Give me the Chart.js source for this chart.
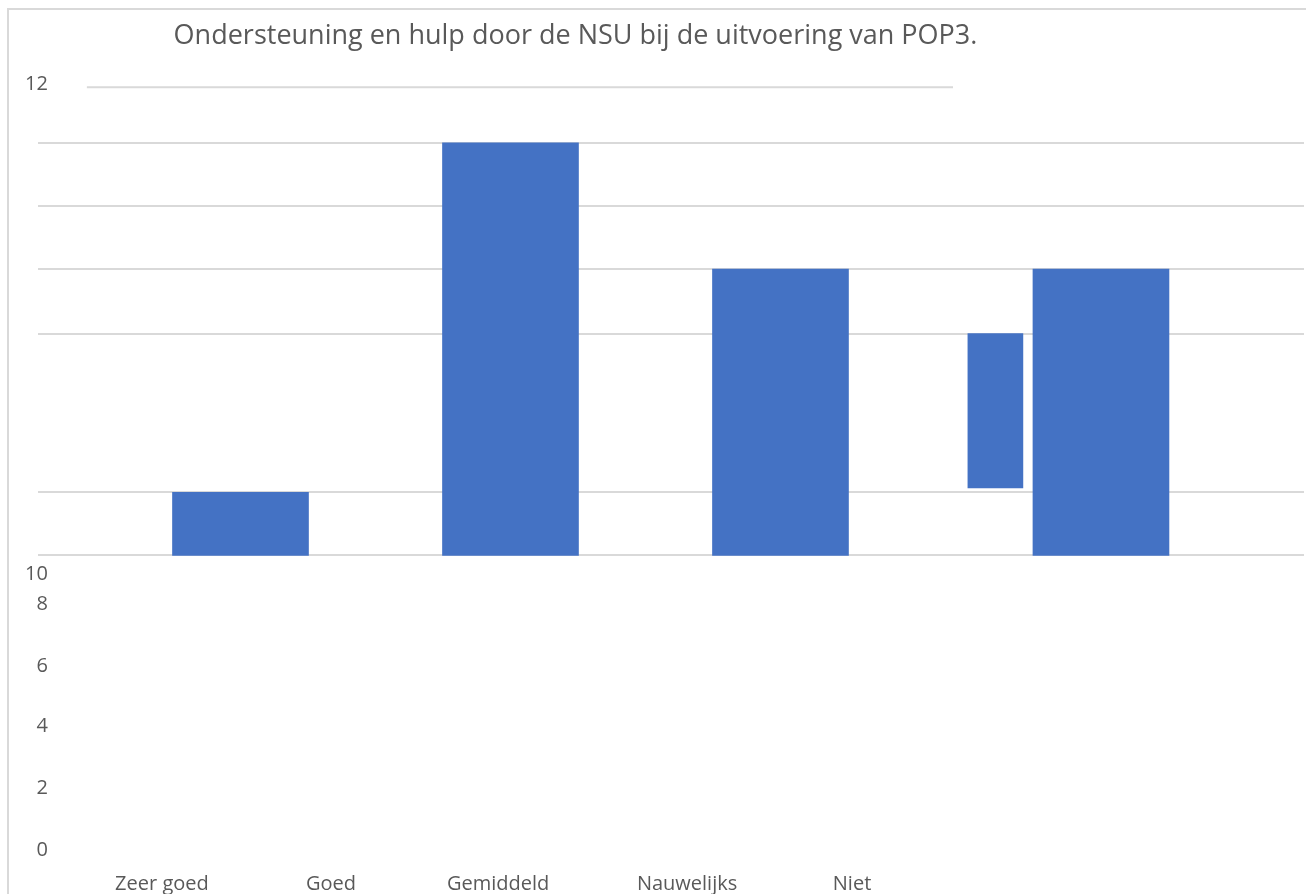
<!DOCTYPE html>
<html>
<head>
<meta charset="utf-8">
<script src="https://cdn.jsdelivr.net/npm/chart.js@4/dist/chart.umd.min.js"></script>
<style>
html, body { margin: 0; padding: 0; background: #ffffff; overflow: hidden; }
#wrap { position: relative; width: 1306px; height: 894px; }
#frame { position: absolute; left: 7px; top: 8px; width: 1400px; height: 1000px; border: 2px solid #d9d9d9; box-sizing: border-box; pointer-events: none; }
</style>
</head>
<body>
<div id="wrap">
  <canvas id="c" width="1306" height="894"></canvas>
  <div id="frame"></div>
</div>
<script>
// ---- data ----
const titleText = 'Ondersteuning en hulp door de NSU bij de uitvoering van POP3.';
const categories = ['Zeer goed', 'Goed', 'Gemiddeld', 'Nauwelijks', 'Niet'];
const categoryPos = [-0.291, 0.335, 0.954, 1.654, 2.265];
const barPos = [0, 1, 2, 3.187];
const barValues = [1, 6.53, 4.53, 4.53];
const extraBarPos = [2.796];
const extraBarRange = [[1.07, 3.51]];
const gridValues = [0, 1, 3.51, 4.53, 5.53, 6.53];
const topLineX = [-0.569, 2.639];
const topLineY = 7.41;
const yTickLabels = ['0', '2', '4', '6', '8', '10', '12'];
const yTickPos = [-4.66, -3.69, -2.71, -1.75, -0.77, -0.29, 7.46];
const xRange = [-0.75, 3.939];
const yRange = [-5.04, 7.587];
const yLabelAxisAt = -0.713;

// ---- style ----
const fontFamily = '"Open Sans", sans-serif';
const textColor = '#595959';
const barColor = '#4472c4';
const gridColor = '#d9d9d9';
const titleCenterX = 575.5;

const titleShift = {
  id: 'titleShift',
  afterLayout(chart) {
    const tb = chart.titleBlock;
    if (!tb) return;
    const w = tb.right - tb.left;
    tb.left = titleCenterX - w / 2;
    tb.right = titleCenterX + w / 2;
  }
};

const mainBars = barPos.map((x, i) => ({ x: x, y: barValues[i] }));
const extraBars = extraBarPos.map((x, i) => ({ x: x, y: extraBarRange[i] }));
const topLine = topLineX.map(x => ({ x: x, y: topLineY }));

new Chart(document.getElementById('c'), {
  type: 'bar',
  data: {
    datasets: [
      {
        type: 'bar', data: mainBars, xAxisID: 'x', yAxisID: 'y',
        backgroundColor: barColor, borderWidth: 0, barThickness: 136, grouped: false
      },
      {
        type: 'bar', data: extraBars, xAxisID: 'x', yAxisID: 'y',
        backgroundColor: barColor, borderWidth: 0, barThickness: 55, grouped: false
      },
      {
        type: 'line', data: topLine, xAxisID: 'x', yAxisID: 'y',
        borderColor: gridColor, borderWidth: 2, pointRadius: 0, fill: false
      }
    ]
  },
  options: {
    responsive: false,
    animation: false,
    devicePixelRatio: 1,
    layout: { padding: { left: 38, right: 2, top: 0, bottom: 0 } },
    plugins: {
      legend: { display: false },
      tooltip: { enabled: false },
      title: {
        display: true,
        text: titleText,
        color: textColor,
        font: { family: fontFamily, size: 27, weight: 'normal', lineHeight: 1.2 },
        padding: { top: 19.8, bottom: 23.8 }
      }
    },
    scales: {
      x: {
        type: 'linear', position: 'bottom', min: xRange[0], max: xRange[1], offset: false,
        grid: { display: false, drawTicks: false, offset: false },
        border: { display: false },
        afterBuildTicks: s => { s.ticks = categoryPos.map(v => ({ value: v })); },
        ticks: {
          autoSkip: false, maxRotation: 0, minRotation: 0, padding: 0,
          color: textColor, font: { family: fontFamily, size: 20, lineHeight: 1.0 },
          callback: (v, i) => categories[i]
        }
      },
      y: { type: 'linear', display: false, min: yRange[0], max: yRange[1] },
      yGrid: {
        type: 'linear', axis: 'y', position: 'left', min: yRange[0], max: yRange[1], z: 1,
        afterBuildTicks: s => { s.ticks = gridValues.map(v => ({ value: v })); },
        ticks: { display: false },
        grid: { color: gridColor, lineWidth: 2, drawTicks: false },
        border: { display: false }
      },
      yLabels: {
        type: 'linear', axis: 'y', position: { x: yLabelAxisAt }, min: yRange[0], max: yRange[1],
        afterBuildTicks: s => { s.ticks = yTickPos.map(v => ({ value: v })); },
        ticks: {
          padding: 0, color: textColor, font: { family: fontFamily, size: 20 },
          callback: (v, i) => yTickLabels[i]
        },
        grid: { display: false, drawTicks: false },
        border: { display: false }
      }
    }
  },
  plugins: [titleShift]
});
</script>
</body>
</html>
